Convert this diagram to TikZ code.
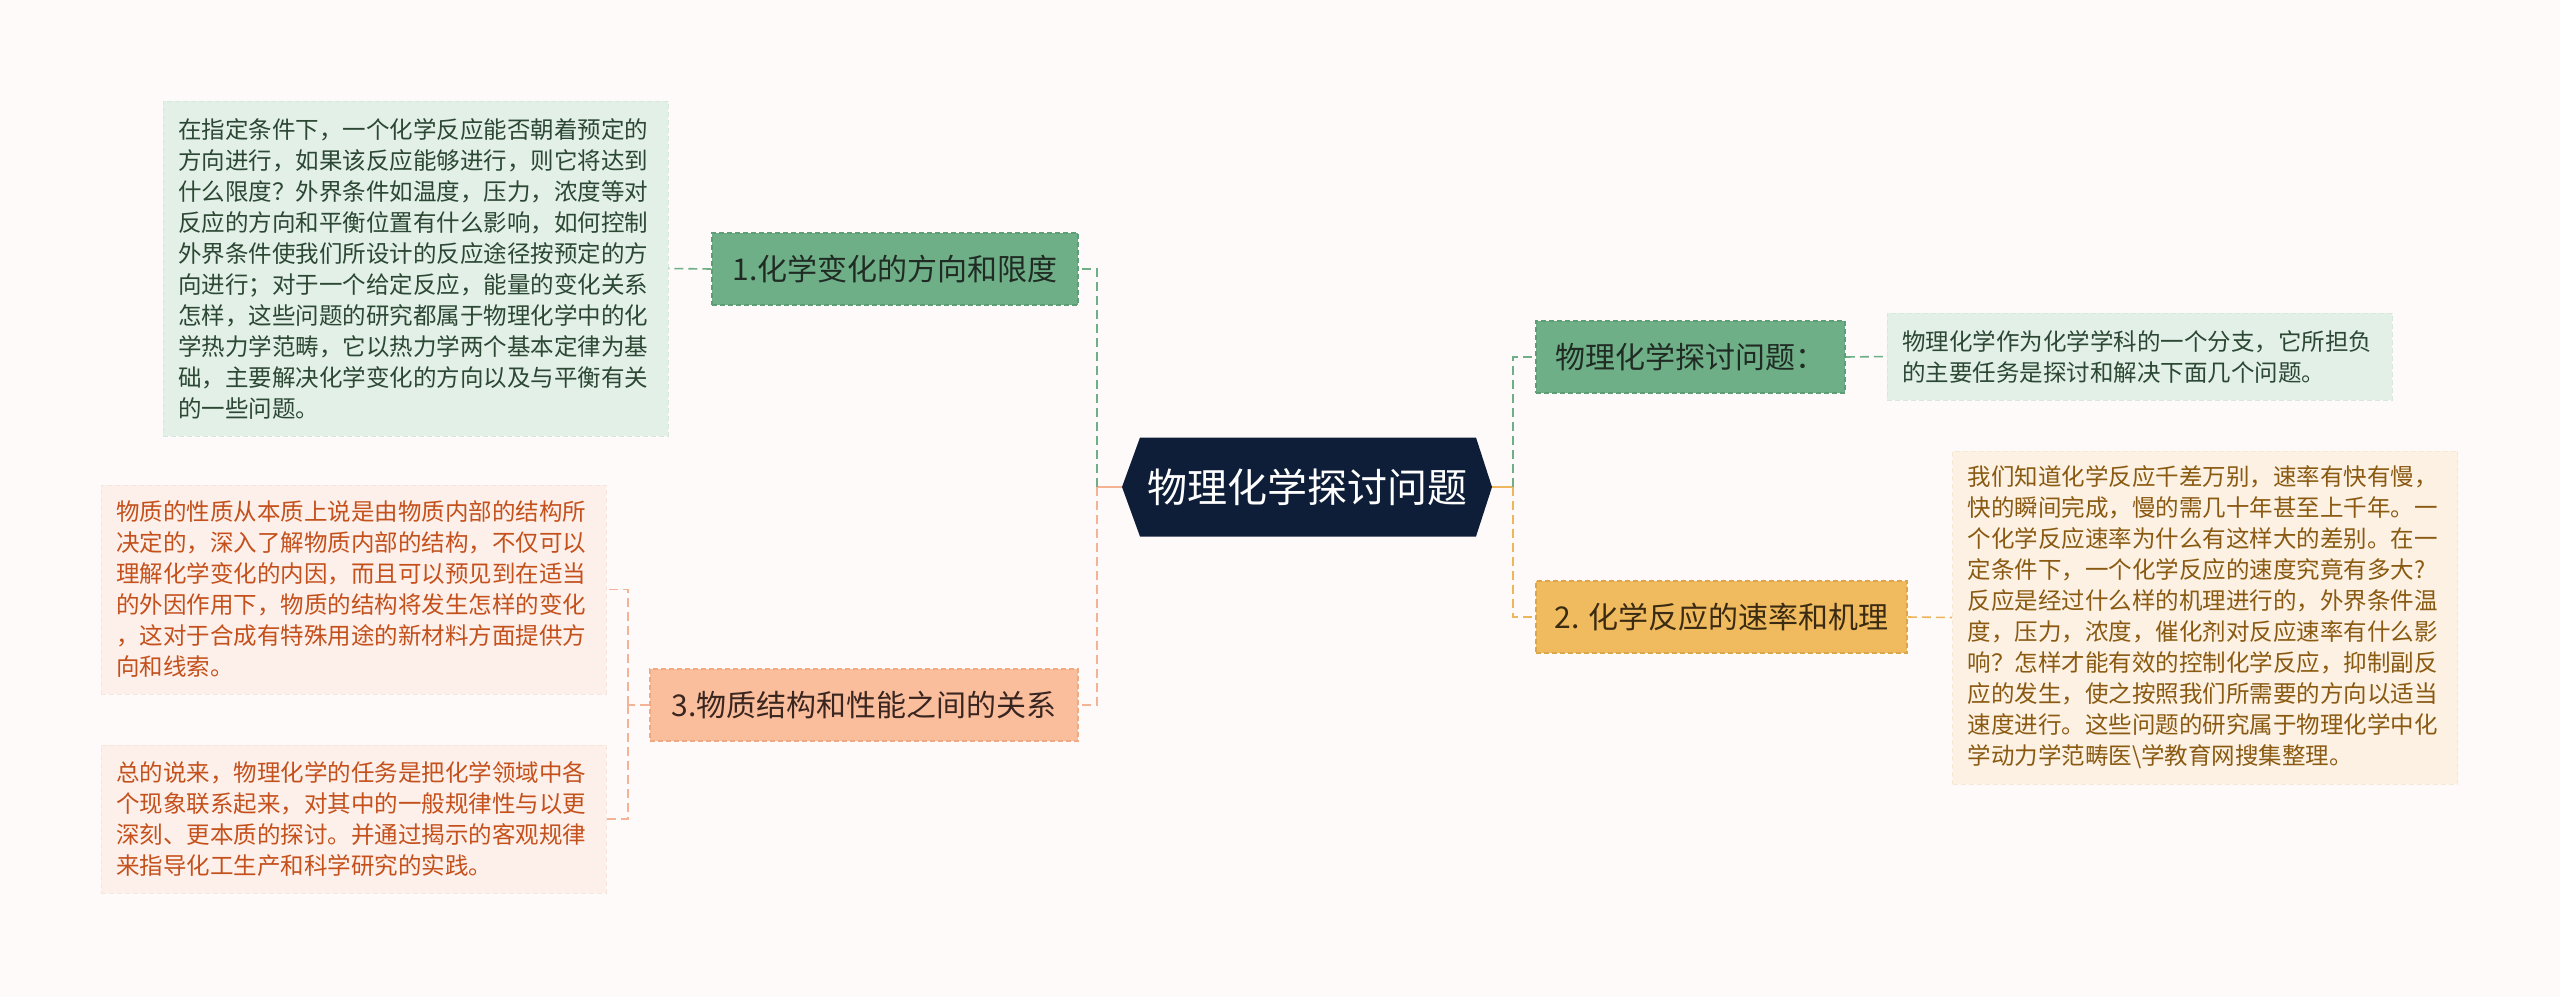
\documentclass[tikz,border=0pt]{standalone}
\usepackage{fontspec}
\setmainfont{Noto Sans CJK SC}
\definecolor{bg}{HTML}{FEFAF9}
\definecolor{hexfill}{HTML}{0F1E38}
\definecolor{gfill}{HTML}{6FAF88}
\definecolor{gdraw}{HTML}{5E9E77}
\definecolor{gtext}{HTML}{1F2B23}
\definecolor{gbox}{HTML}{E2F0E7}
\definecolor{gboxdraw}{HTML}{D6E8DC}
\definecolor{gboxtext}{HTML}{2C4733}
\definecolor{yfill}{HTML}{F0BA5F}
\definecolor{ydraw}{HTML}{DDA64B}
\definecolor{ytext}{HTML}{3A2B12}
\definecolor{ybox}{HTML}{FCF1E2}
\definecolor{yboxdraw}{HTML}{F6E8D2}
\definecolor{yboxtext}{HTML}{8A5A12}
\definecolor{pfill}{HTML}{FBBE9D}
\definecolor{pdraw}{HTML}{EFA983}
\definecolor{ptext}{HTML}{3A2620}
\definecolor{pbox}{HTML}{FDF0EA}
\definecolor{pboxdraw}{HTML}{F8E6DD}
\definecolor{pboxtext}{HTML}{C4501C}
\definecolor{gline}{HTML}{6FAF88}
\definecolor{yline}{HTML}{EDB65C}
\definecolor{pline}{HTML}{F4B394}
\tikzset{
  topic/.style={draw, dash pattern=on 5pt off 3pt, line width=1.5pt, inner sep=0pt,
    minimum height=72pt, font=\fontsize{30}{36}\selectfont},
  gtopic/.style={topic, fill=gfill, draw=gdraw, text=gtext},
  ytopic/.style={topic, fill=yfill, draw=ydraw, text=ytext},
  ptopic/.style={topic, fill=pfill, draw=pdraw, text=ptext},
  tbox/.style={draw, dash pattern=on 5pt off 3pt, line width=1pt, align=left,
    text width=475pt, inner xsep=15pt, inner ysep=0pt, minimum width=505pt,
    font=\fontsize{23.5}{31}\selectfont},
  gtbox/.style={tbox, fill=gbox, draw=gboxdraw, text=gboxtext},
  ytbox/.style={tbox, fill=ybox, draw=yboxdraw, text=yboxtext},
  ptbox/.style={tbox, fill=pbox, draw=pboxdraw, text=pboxtext},
  conn/.style={line width=2.5pt},
  gdash/.style={conn, draw=gline, dash pattern=on 9pt off 5pt},
  ydash/.style={conn, draw=yline, dash pattern=on 9pt off 5pt},
  pdash/.style={conn, draw=pline, dash pattern=on 9pt off 5pt},
  thin/.style={line width=1.6pt},
}
\begin{document}
\begin{tikzpicture}[x=1pt,y=-1pt]
\fill[bg] (0,0) rectangle (2560,997);
\useasboundingbox (0,0) rectangle (2560,997);

% central node
\node[minimum width=370pt, minimum height=99pt, inner sep=0pt, text=white,
  font=\fontsize{40}{48}\selectfont,
  path picture={\fill[hexfill] (path picture bounding box.west)
     -- ([xshift=18pt]path picture bounding box.north west)
     -- ([xshift=-16pt]path picture bounding box.north east)
     -- (path picture bounding box.east)
     -- ([xshift=-16pt]path picture bounding box.south east)
     -- ([xshift=18pt]path picture bounding box.south west) -- cycle;}]
  (hex) at (1307,487) {物理化学探讨问题};

% left topics
\node[gtopic, minimum width=366pt] (n1) at (895,269) {1.化学变化的方向和限度};
\node[ptopic, minimum width=428pt] (n3) at (864,705) {3.物质结构和性能之间的关系};

% right topics
\node[gtopic, minimum width=309pt] (r1) at (1690.5,357) {物理化学探讨问题：};
\node[ytopic, minimum width=371pt] (n2) at (1721.5,617) {2. 化学反应的速率和机理};

% text boxes
\node[gtbox, minimum height=335pt] (t1) at (415.5,268.5) {在指定条件下，一个化学反应能否朝着预定的\\方向进行，如果该反应能够进行，则它将达到\\什么限度？外界条件如温度，压力，浓度等对\\反应的方向和平衡位置有什么影响，如何控制\\外界条件使我们所设计的反应途径按预定的方\\向进行；对于一个给定反应，能量的变化关系\\怎样，这些问题的研究都属于物理化学中的化\\学热力学范畴，它以热力学两个基本定律为基\\础，主要解决化学变化的方向以及与平衡有关\\的一些问题。};

\node[ptbox, minimum height=209pt] (t3a) at (353.5,589.5) {物质的性质从本质上说是由物质内部的结构所\\决定的，深入了解物质内部的结构，不仅可以\\理解化学变化的内因，而且可以预见到在适当\\的外因作用下，物质的结构将发生怎样的变化\\，这对于合成有特殊用途的新材料方面提供方\\向和线索。};

\node[ptbox, minimum height=148pt] (t3b) at (353.5,819) {总的说来，物理化学的任务是把化学领域中各\\个现象联系起来，对其中的一般规律性与以更\\深刻、更本质的探讨。并通过揭示的客观规律\\来指导化工生产和科学研究的实践。};

\node[gtbox, minimum height=87pt] (tr1) at (2139.5,356.5) {物理化学作为化学学科的一个分支，它所担负\\的主要任务是探讨和解决下面几个问题。};

\node[ytbox, minimum height=333pt] (tr2) at (2205,617.5) {我们知道化学反应千差万别，速率有快有慢，\\快的瞬间完成，慢的需几十年甚至上千年。一\\个化学反应速率为什么有这样大的差别。在一\\定条件下，一个化学反应的速度究竟有多大?\\反应是经过什么样的机理进行的，外界条件温\\度，压力，浓度，催化剂对反应速率有什么影\\响？怎样才能有效的控制化学反应，抑制副反\\应的发生，使之按照我们所需要的方向以适当\\速度进行。这些问题的研究属于物理化学中化\\学动力学范畴医\textbackslash 学教育网搜集整理。};

% junctions
\coordinate (jl) at (1097,487);
\coordinate (jr) at (1513,487);
\coordinate (j3) at (628,705);

% connectors
\draw[conn, draw=pline] (hex.west) -- (jl);
\draw[gdash] (jl) |- (n1.east);
\draw[pdash] (jl) |- (n3.east);
\draw[conn, draw=yline] (hex.east) -- (jr);
\draw[gdash] (jr) |- (r1.west);
\draw[ydash] (jr) |- (n2.west);

\draw[gdash, thin] (n1.west) -- (t1.east);
\draw[gdash, thin] (r1.east) -- (tr1.west);
\draw[ydash, thin] (n2.east) -- (tr2.west);
\draw[pdash, thin] (n3.west) -- (j3);
\draw[pdash, thin] (j3) |- (t3a.east);
\draw[pdash, thin] (j3) |- (t3b.east);
\end{tikzpicture}
\end{document}
